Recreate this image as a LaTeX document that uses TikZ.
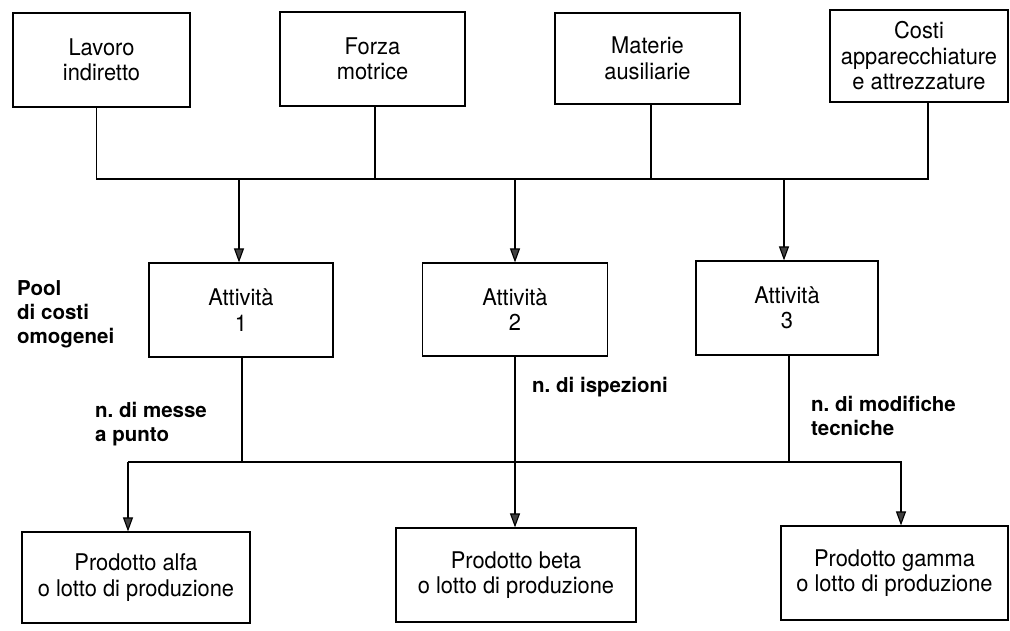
\documentclass[tikz,border=0pt]{standalone}
\usepackage{fontspec}
\setmainfont{TeX Gyre Heros}
\newfontfamily\boxfont[FakeStretch=0.95]{TeX Gyre Heros}
\frenchspacing
\usetikzlibrary{arrows.meta,calc}
\begin{document}
\begin{tikzpicture}[x=1pt,y=-1pt,
  box/.style={draw, line width=1.2pt, align=center, inner sep=2pt,
    font=\boxfont\fontsize{23}{25.5}\selectfont},
  link/.style={line width=1.1pt},
  arr/.style={line width=1.1pt, -{Triangle[width=10pt,length=14pt,fill=black!75]}},
  tag/.style={align=left, inner sep=0pt, font=\bfseries\fontsize{20.5}{24}\selectfont},
  pooltag/.style={align=left, inner sep=0pt, font=\bfseries\fontsize{20.5}{24}\selectfont}]
\useasboundingbox[fill=white] (0,0) rectangle (1010,630);

% cost sources
\node[box, minimum width=177pt, minimum height=94pt] (lav) at (101.5,60) {Lavoro\\indiretto};
\node[box, minimum width=185pt, minimum height=94pt] (forza) at (372.5,59) {Forza\\motrice};
\node[box, minimum width=185pt, minimum height=91pt] (mat) at (647.5,58.5) {Materie\\ausiliarie};
\node[box, minimum width=178pt, minimum height=92pt] (costi) at (919,56) {Costi\\apparecchiature\\e attrezzature};

% activity pools
\node[box, minimum width=184pt, minimum height=94pt] (a1) at (241,310) {Attività\\1};
\node[box, minimum width=185pt, minimum height=93pt] (a2) at (515,309.5) {Attività\\2};
\node[box, minimum width=182pt, minimum height=94pt] (a3) at (787,308) {Attività\\3};

% products
\node[box, minimum width=228pt, minimum height=91pt] (p1) at (136,577.5) {Prodotto alfa\\o lotto di produzione};
\node[box, minimum width=240pt, minimum height=94pt] (p2) at (516,575) {Prodotto beta\\o lotto di produzione};
\node[box, minimum width=227pt, minimum height=94pt] (p3) at (894.5,573) {Prodotto gamma\\o lotto di produzione};

% side labels
\node[pooltag, anchor=north west] (pool) at (17,280) {Pool\\di costi\\omogenei};
\node[tag, anchor=north west] (d1) at (95,402) {n. di messe\\a punto};
\node[tag, anchor=north west] (d2) at (532,377) {n. di ispezioni};
\node[tag, anchor=north west] (d3) at (811,396) {n. di modifiche\\tecniche};

% collecting line for resources
\coordinate (bus) at (0,179);
\coordinate (lavx) at ($(lav.south)+(-5,0)$);
\coordinate (forzax) at ($(forza.south)+(2.5,0)$);
\coordinate (matx) at ($(mat.south)+(3.5,0)$);
\coordinate (costix) at ($(costi.south)+(9,0)$);
\draw[link] (lavx) -- (lavx |- bus) -- (costix |- bus) -- (costix);
\draw[link] (forzax) -- (forzax |- bus);
\draw[link] (matx) -- (matx |- bus);

\coordinate (a1x) at ($(a1.north)+(-2,0)$);
\coordinate (a2x) at ($(a2.north)+(0,0)$);
\coordinate (a3x) at ($(a3.north)+(-3,0)$);
\draw[arr] (a1x |- bus) -- (a1x);
\draw[arr] (a2x |- bus) -- (a2x);
\draw[arr] (a3x |- bus) -- (a3x);

% distribution line to products
\coordinate (bus2) at (0,462);
\coordinate (p1x) at ($(p1.north)+(-8,0)$);
\coordinate (p3x) at ($(p3.north)+(6.5,0)$);
\coordinate (b1x) at ($(a1.south)+(1,0)$);
\coordinate (b3x) at ($(a3.south)+(2,0)$);
\draw[link] (b1x) -- (b1x |- bus2);
\draw[link] (b3x) -- (b3x |- bus2);
\draw[arr] (p1x |- bus2) -- (p3x |- bus2) -- (p3x);
\draw[arr] (p1x |- bus2) -- (p1x);
\draw[arr] (a2.south) -- (a2.south |- p2.north);
\end{tikzpicture}
\end{document}
